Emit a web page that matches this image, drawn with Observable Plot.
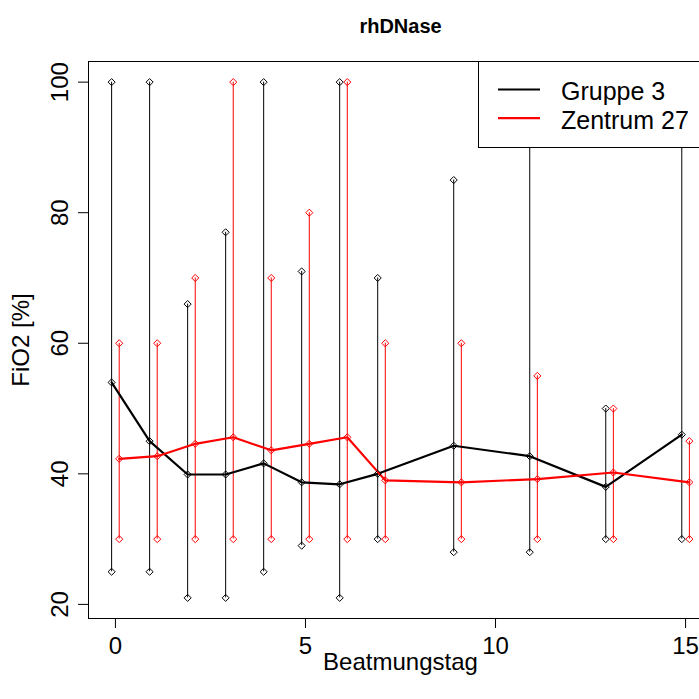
<!DOCTYPE html>
<html>
<head>
<meta charset="utf-8">
<script src="https://cdn.jsdelivr.net/npm/d3@7"></script>
<script src="https://cdn.jsdelivr.net/npm/@observablehq/plot@0.6"></script>
<style>
  html, body { margin: 0; padding: 0; background: #fff; overflow: hidden; }
  #chart { position: relative; width: 699px; height: 699px; overflow: hidden;
           font-family: "Liberation Sans", Arial, sans-serif; }
  #chart > svg.plot-main { max-width: none; display: block; }
  #legend { position: absolute; left: 478px; top: 61px; }
</style>
</head>
<body>
<div id="chart"></div>
<script>
// Ventilation day (Beatmungstag)
const days = [0, 1, 2, 3, 4, 5, 6, 7, 9, 11, 13, 15];

// Gruppe 3: mean FiO2 with min/max range
const gruppeMean = [54, 45, 39.9, 39.9, 41.6, 38.7, 38.4, 40.0, 44.3, 42.7, 38.0, 46.0];
const gruppeMin  = [25, 25, 21, 21, 25, 29, 21, 30, 28, 28, 30, 30];
const gruppeMax  = [100, 100, 66, 77, 100, 71, 100, 70, 85, 100, 50, 100];

// Zentrum 27: mean FiO2 with min/max range
const zentrumMean = [42.3, 42.7, 44.6, 45.6, 43.6, 44.6, 45.6, 39.0, 38.7, 39.2, 40.2, 38.7];
const zentrumMin  = [30, 30, 30, 30, 30, 30, 30, 30, 30, 30, 30, 30];
const zentrumMax  = [60, 60, 70, 100, 70, 80, 100, 60, 60, 55, 50, 45];

const seriesNames = ["Gruppe 3", "Zentrum 27"];
const seriesColors = ["#000000", "#ff0000"];
const xTicks = [0, 5, 10, 15];
const yTicks = [20, 40, 60, 80, 100];

// the two series are dodged slightly left / right of each day
const dodge = 0.1;
const rows = [
  ...days.map((d, i) => ({series: seriesNames[0], x: d - dodge, mean: gruppeMean[i], lo: gruppeMin[i], hi: gruppeMax[i]})),
  ...days.map((d, i) => ({series: seriesNames[1], x: d + dodge, mean: zentrumMean[i], lo: zentrumMin[i], hi: zentrumMax[i]}))
];

// base-R style axis limits: data range widened by 4% on each side
const pad = ([a, b]) => [a - 0.04 * (b - a), b + 0.04 * (b - a)];
const xDomain = pad(d3.extent(rows, d => d.x));
const yDomain = pad([d3.min(rows, d => d.lo), d3.max(rows, d => d.hi)]);

const font = "Liberation Sans, Arial, sans-serif";
const color = {domain: seriesNames, range: seriesColors};

const marker = {symbol: "diamond2", r: 3.2, fill: "none", strokeWidth: 1};

const chart = Plot.plot({
  width: 740,
  height: 699,
  marginLeft: 88,
  marginRight: 28,
  marginTop: 61,
  marginBottom: 81,
  style: {fontFamily: font, fontSize: "24px", background: "#fff", color: "#000"},
  x: {domain: xDomain},
  y: {domain: yDomain},
  color,
  marks: [
    // min-max range per day
    Plot.ruleX(rows, {x: "x", y1: "lo", y2: "hi", stroke: "series", strokeWidth: 1}),
    Plot.dot(rows, {x: "x", y: "lo", stroke: "series", ...marker}),
    Plot.dot(rows, {x: "x", y: "hi", stroke: "series", ...marker}),
    // mean course
    Plot.line(rows, {x: "x", y: "mean", z: "series", stroke: "series", strokeWidth: 2.2}),
    Plot.dot(rows, {x: "x", y: "mean", stroke: "series", ...marker}),
    Plot.frame({stroke: "#000", strokeWidth: 1}),
    // axes
    Plot.axisX(xTicks, {tickSize: 10, tickPadding: 8, fontSize: 24, label: null, stroke: "#000"}),
    Plot.axisY(yTicks, {tickSize: 10, tickFormat: () => "", label: null, stroke: "#000"}),
    Plot.text(yTicks, {y: d => d, text: d => String(d), frameAnchor: "left", dx: -28,
                       rotate: -90, textAnchor: "middle", lineAnchor: "middle", fontSize: 24, fill: "#000"}),
    Plot.text(["Beatmungstag"], {frameAnchor: "bottom", lineAnchor: "bottom", dy: 51, fontSize: 24, fill: "#000"}),
    Plot.text(["FiO2 [%]"], {frameAnchor: "left", dx: -67, rotate: -90, textAnchor: "middle",
                             lineAnchor: "middle", fontSize: 24, fill: "#000"}),
    Plot.text(["rhDNase"], {frameAnchor: "top", lineAnchor: "bottom", dy: -29, fontSize: 20,
                            fontWeight: "bold", fill: "#000"})
  ]
});
chart.classList.add("plot-main");
document.getElementById("chart").appendChild(chart);

// legend box in the top-right corner of the plot region
const legend = d3.select("#chart").append("svg")
  .attr("id", "legend")
  .attr("width", 260).attr("height", 88);
legend.append("rect")
  .attr("x", 0.5).attr("y", 0.5).attr("width", 300).attr("height", 86)
  .attr("fill", "#fff").attr("stroke", "#000");
const entries = legend.selectAll("g").data(seriesNames).join("g")
  .attr("transform", (d, i) => `translate(0,${28.5 + i * 28.7})`);
entries.append("line")
  .attr("x1", 20).attr("x2", 62).attr("y1", 0).attr("y2", 0)
  .attr("stroke", (d, i) => seriesColors[i]).attr("stroke-width", 2.2);
entries.append("text")
  .attr("x", 83).attr("y", 10.5)
  .attr("font-family", font).attr("font-size", 25).attr("fill", "#000")
  .text(d => d);
</script>
</body>
</html>
